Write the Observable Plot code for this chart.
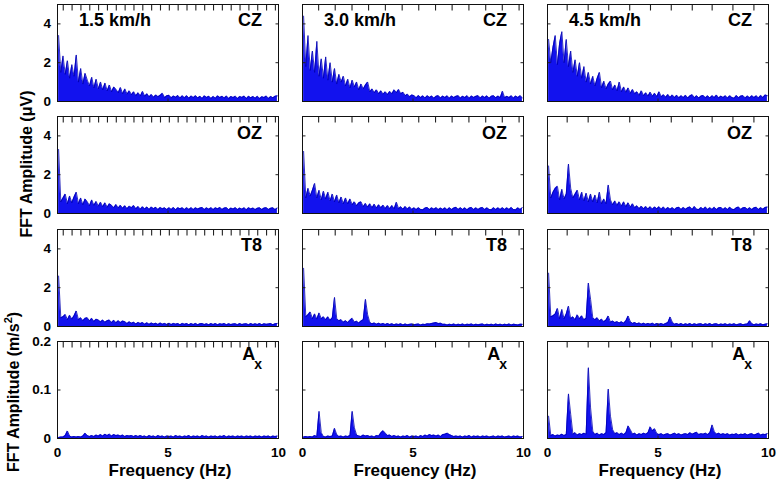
<!DOCTYPE html>
<html><head><meta charset="utf-8">
<script src="https://cdn.jsdelivr.net/npm/d3@7"></script>
<script src="https://cdn.jsdelivr.net/npm/@observablehq/plot@0.6"></script>
<style>
html,body{margin:0;padding:0;background:#fff;}
#chart{position:relative;width:777px;height:482px;overflow:hidden;font-family:"Liberation Sans",Arial,sans-serif;}
#chart svg{position:absolute;background:transparent !important;overflow:visible;}
</style></head><body><div id="chart"></div>
<script>
// ---- labels ----
const speeds = ["1.5 km/h", "3.0 km/h", "4.5 km/h"];
const channels = ["CZ", "OZ", "T8", "Ax"];
const xTicks = [0, 5, 10];
const eegTicks = [0, 2, 4];
const accTicks = [0, 0.1, 0.2];
// stride-harmonic marks at the top of each column (Hz)
const harm15 = [0.26,0.66,1.06,1.46,1.86,2.26,2.66,3.06,3.46,3.86,4.26,4.66,5.06,5.46,5.86,6.26,6.66,7.06,7.46,7.86,8.26,8.66,9.06,9.46,9.86];
const harm30 = [0.73,1.48,2.24,2.99,3.75,4.51,5.26,6.02,6.77,7.53,8.29,9.04,9.80];
const harm45 = [0.89,1.84,2.77,3.72,4.66,5.60,6.55,7.45,8.39,9.34];
// spectrum bins: centre of first bin and bin width (Hz)
const binStart = 0.05, binStep = 0.1;

// ---- FFT amplitudes (µV), 100 bins, one row per Hz ----
const cz15 = [
3.4,1.5,2.35,1.4,2.1,1.2,1.9,1.3,2.4,1.0,
1.7,0.9,1.45,1.1,0.8,1.25,0.7,1.15,0.65,1.0,
0.6,0.95,0.55,0.85,0.5,0.75,0.62,0.45,0.72,0.4,
0.65,0.38,0.55,0.35,0.5,0.3,0.45,0.28,0.52,0.27,
0.4,0.24,0.36,0.22,0.34,0.25,0.32,0.42,0.2,0.3,
0.32,0.19,0.28,0.22,0.31,0.18,0.29,0.19,0.3,0.17,
0.28,0.2,0.3,0.18,0.27,0.16,0.29,0.21,0.27,0.16,
0.26,0.17,0.29,0.2,0.27,0.18,0.28,0.15,0.26,0.2,
0.27,0.16,0.26,0.21,0.28,0.15,0.27,0.19,0.26,0.17,
0.27,0.15,0.25,0.2,0.28,0.16,0.26,0.19,0.27,0.29];
const oz15 = [
3.3,0.6,0.8,1.0,0.5,0.9,0.55,0.85,1.1,0.5,
0.8,0.45,0.75,0.6,0.4,0.7,0.42,0.62,0.38,0.58,
0.35,0.55,0.32,0.5,0.42,0.3,0.46,0.28,0.42,0.27,
0.4,0.25,0.38,0.3,0.41,0.24,0.36,0.22,0.35,0.23,
0.34,0.21,0.33,0.25,0.32,0.2,0.31,0.24,0.29,0.2,
0.3,0.21,0.31,0.19,0.3,0.24,0.29,0.2,0.3,0.21,
0.3,0.2,0.29,0.23,0.28,0.31,0.2,0.29,0.22,0.3,
0.2,0.29,0.24,0.31,0.21,0.28,0.3,0.19,0.28,0.23,
0.3,0.2,0.28,0.22,0.29,0.19,0.3,0.23,0.28,0.2,
0.27,0.29,0.2,0.28,0.3,0.21,0.27,0.29,0.2,0.28];
const t815 = [
2.6,0.45,0.5,0.62,0.35,0.58,0.38,0.55,0.8,0.35,
0.45,0.3,0.42,0.45,0.28,0.42,0.26,0.38,0.33,0.24,
0.33,0.22,0.3,0.33,0.2,0.32,0.19,0.3,0.2,0.28,
0.25,0.15,0.24,0.17,0.22,0.13,0.21,0.15,0.2,0.12,
0.19,0.11,0.18,0.13,0.17,0.1,0.18,0.12,0.16,0.1,
0.17,0.1,0.16,0.12,0.15,0.09,0.16,0.11,0.15,0.09,
0.15,0.1,0.16,0.09,0.14,0.15,0.1,0.14,0.09,0.15,
0.1,0.15,0.09,0.14,0.11,0.15,0.09,0.14,0.1,0.13,
0.14,0.09,0.15,0.1,0.13,0.14,0.09,0.15,0.1,0.14,
0.1,0.15,0.09,0.14,0.11,0.13,0.15,0.09,0.14,0.16];
const cz30 = [
4.4,1.8,3.4,1.6,2.6,1.5,3.1,1.3,2.2,1.2,
2.3,1.1,2.0,1.0,1.7,0.9,1.4,1.0,1.3,0.8,
1.15,0.7,1.1,0.75,1.0,0.6,0.9,0.65,0.85,1.0,
0.5,0.65,0.45,0.6,0.4,0.55,0.38,0.5,0.36,0.52,
0.4,0.6,0.45,0.62,0.4,0.48,0.3,0.38,0.25,0.34,
0.3,0.19,0.31,0.2,0.29,0.18,0.3,0.21,0.28,0.17,
0.27,0.3,0.18,0.28,0.2,0.29,0.17,0.28,0.2,0.27,
0.29,0.18,0.27,0.2,0.3,0.17,0.28,0.21,0.27,0.3,
0.18,0.28,0.2,0.29,0.17,0.27,0.3,0.19,0.28,0.2,
0.53,0.19,0.27,0.2,0.29,0.18,0.28,0.2,0.3,0.19];
const oz30 = [
3.2,0.8,1.3,0.9,1.2,1.55,0.8,1.2,0.7,1.15,
0.75,1.1,0.65,1.0,0.6,0.95,0.55,0.85,0.5,0.8,
0.5,0.75,0.45,0.6,0.4,0.55,0.6,0.35,0.52,0.33,
0.5,0.3,0.48,0.28,0.45,0.3,0.43,0.26,0.41,0.25,
0.41,0.24,0.58,0.25,0.35,0.22,0.36,0.23,0.34,0.21,
0.29,0.2,0.3,0.21,0.19,0.28,0.31,0.2,0.29,0.22,
0.3,0.2,0.28,0.21,0.29,0.19,0.3,0.2,0.28,0.32,
0.21,0.3,0.2,0.29,0.19,0.28,0.31,0.2,0.29,0.21,
0.28,0.31,0.2,0.29,0.21,0.19,0.3,0.2,0.29,0.21,
0.3,0.2,0.29,0.21,0.31,0.2,0.19,0.29,0.21,0.3];
const t830 = [
3.0,0.5,0.6,0.75,0.4,0.65,0.38,0.7,0.4,0.5,
0.35,0.5,0.32,0.45,1.5,0.4,0.3,0.35,0.22,0.3,
0.2,0.32,0.42,0.22,0.27,0.18,0.28,0.35,1.4,0.6,
0.2,0.14,0.18,0.12,0.17,0.11,0.16,0.1,0.15,0.1,
0.14,0.09,0.13,0.1,0.14,0.08,0.13,0.09,0.11,0.13,
0.09,0.11,0.13,0.08,0.12,0.1,0.14,0.13,0.16,0.18,
0.2,0.15,0.17,0.11,0.12,0.08,0.12,0.09,0.13,0.08,
0.12,0.09,0.13,0.08,0.12,0.1,0.13,0.08,0.12,0.09,
0.11,0.13,0.08,0.12,0.09,0.12,0.08,0.13,0.09,0.12,
0.08,0.12,0.09,0.13,0.08,0.12,0.1,0.08,0.12,0.11];
const cz45 = [
3.2,2.0,2.8,3.4,1.9,3.0,3.6,2.0,3.2,1.8,
2.6,1.5,2.15,1.3,2.0,1.2,1.8,1.0,1.5,0.9,
1.3,0.8,1.2,1.5,0.7,1.05,0.65,0.9,1.05,0.6,
0.85,0.55,1.0,0.5,0.75,0.48,0.7,0.42,0.62,0.4,
0.5,0.32,0.55,0.3,0.45,0.28,0.48,0.27,0.42,0.26,
0.5,0.24,0.35,0.22,0.36,0.21,0.34,0.2,0.32,0.19,
0.3,0.2,0.32,0.18,0.29,0.35,0.19,0.3,0.18,0.28,
0.31,0.19,0.29,0.18,0.3,0.2,0.33,0.18,0.28,0.2,
0.29,0.18,0.3,0.2,0.17,0.31,0.19,0.28,0.3,0.18,
0.28,0.19,0.3,0.2,0.29,0.18,0.31,0.2,0.34,0.3];
const oz45 = [
2.45,0.8,1.1,1.3,1.4,0.7,1.25,0.75,1.0,2.55,
1.3,0.8,1.0,1.2,0.7,1.1,0.65,1.05,0.6,1.0,
0.6,0.95,0.55,1.1,0.5,0.75,0.5,1.47,0.7,0.45,
0.65,0.42,0.6,0.38,0.6,0.35,0.55,0.32,0.5,0.3,
0.4,0.25,0.38,0.24,0.36,0.23,0.35,0.22,0.34,0.24,
0.35,0.22,0.33,0.21,0.31,0.22,0.3,0.2,0.29,0.32,
0.21,0.31,0.22,0.3,0.34,0.21,0.36,0.22,0.2,0.31,
0.22,0.33,0.2,0.3,0.21,0.32,0.2,0.29,0.31,0.21,
0.3,0.2,0.32,0.22,0.2,0.3,0.33,0.21,0.29,0.31,
0.21,0.3,0.2,0.29,0.32,0.21,0.3,0.22,0.31,0.33];
const t845 = [
2.75,0.5,0.55,0.65,0.93,0.4,0.88,0.4,0.65,1.05,
0.4,0.5,0.35,0.6,0.4,0.55,0.35,0.42,2.24,1.4,
0.45,0.35,0.45,0.28,0.38,0.25,0.33,0.54,0.22,0.28,
0.2,0.25,0.18,0.24,0.17,0.3,0.54,0.25,0.16,0.2,
0.14,0.18,0.12,0.17,0.11,0.16,0.12,0.17,0.1,0.15,
0.11,0.15,0.1,0.15,0.2,0.49,0.22,0.12,0.15,0.1,
0.15,0.09,0.14,0.1,0.15,0.09,0.14,0.1,0.13,0.14,
0.09,0.14,0.1,0.15,0.09,0.13,0.14,0.09,0.13,0.1,
0.14,0.09,0.13,0.1,0.14,0.09,0.12,0.14,0.09,0.12,
0.13,0.3,0.14,0.09,0.13,0.1,0.14,0.09,0.12,0.14];
// ---- FFT amplitudes (m/s^2) of the Ax acceleration ----
const ax15 = [
0.002,0.003,0.003,0.006,0.0155,0.005,0.003,0.004,0.003,0.004,
0.003,0.005,0.011,0.006,0.004,0.006,0.004,0.007,0.005,0.008,
0.005,0.009,0.006,0.009,0.005,0.008,0.006,0.007,0.005,0.007,
0.004,0.006,0.005,0.006,0.004,0.006,0.004,0.006,0.004,0.005,
0.003,0.006,0.004,0.005,0.003,0.006,0.004,0.005,0.003,0.005,
0.004,0.005,0.003,0.006,0.004,0.005,0.003,0.005,0.004,0.006,
0.003,0.005,0.004,0.005,0.003,0.006,0.004,0.005,0.003,0.005,
0.004,0.005,0.003,0.005,0.004,0.006,0.003,0.005,0.004,0.005,
0.003,0.005,0.004,0.005,0.003,0.005,0.004,0.005,0.003,0.005,
0.004,0.005,0.003,0.005,0.004,0.005,0.003,0.005,0.004,0.005];
const ax30 = [
0.003,0.004,0.003,0.004,0.003,0.006,0.004,0.056,0.012,0.004,
0.003,0.005,0.004,0.005,0.021,0.008,0.004,0.005,0.003,0.005,
0.004,0.006,0.056,0.022,0.007,0.005,0.004,0.007,0.005,0.006,
0.004,0.005,0.003,0.006,0.005,0.012,0.016,0.011,0.006,0.007,
0.004,0.006,0.004,0.005,0.003,0.005,0.004,0.006,0.003,0.005,
0.004,0.005,0.003,0.006,0.004,0.007,0.005,0.008,0.006,0.007,
0.005,0.007,0.004,0.008,0.009,0.011,0.008,0.006,0.004,0.005,
0.004,0.005,0.003,0.005,0.004,0.006,0.003,0.005,0.004,0.005,
0.003,0.005,0.004,0.005,0.003,0.004,0.005,0.003,0.005,0.004,
0.005,0.003,0.004,0.005,0.003,0.005,0.004,0.005,0.003,0.004];
const ax45 = [
0.046,0.006,0.008,0.005,0.007,0.006,0.009,0.006,0.008,0.092,
0.05,0.009,0.012,0.007,0.01,0.008,0.011,0.009,0.146,0.063,
0.015,0.008,0.011,0.007,0.01,0.008,0.012,0.102,0.046,0.018,
0.01,0.012,0.008,0.011,0.008,0.012,0.026,0.018,0.009,0.011,
0.007,0.01,0.008,0.011,0.009,0.012,0.024,0.016,0.02,0.01,
0.008,0.01,0.007,0.009,0.01,0.007,0.009,0.011,0.008,0.01,
0.007,0.009,0.01,0.008,0.012,0.009,0.011,0.013,0.008,0.01,
0.009,0.011,0.008,0.012,0.028,0.014,0.009,0.011,0.008,0.01,
0.008,0.01,0.007,0.009,0.008,0.01,0.007,0.009,0.008,0.01,
0.007,0.009,0.01,0.007,0.009,0.011,0.007,0.009,0.008,0.01];

const grid = [
  [cz15, cz30, cz45],
  [oz15, oz30, oz45],
  [t815, t830, t845],
  [ax15, ax30, ax45]
];
const harmonics = [harm15, harm30, harm45];

// ---- layout ----
const X0 = [56.5, 301.5, 546.5], W = 221;
const Y0 = [3.5, 116, 228.5, 340.5], H = 97;
const ML = 45, MR = 12, MT = 8, MB = 40;
const FILL = "#1212ee", STROKE = "#0000b0";
const FONT = '"Liberation Sans", Arial, sans-serif';
const TOPTICK = 6, SIDETICK = 3; // px
const TICKCOLOR = "#222";
const chart = document.getElementById("chart");

for (let r = 0; r < 4; r++) {
  for (let c = 0; c < 3; c++) {
    const rows = grid[r][c].map((v, i) => ({f: binStart + i * binStep, v}));
    const isAcc = r === 3;
    const yTicks = isAcc ? accTicks : eegTicks;
    const yMax = isAcc ? 0.2 : 5;
    const dyTop = yMax * TOPTICK / H, dySide = yMax * SIDETICK / H, dxSide = 10 * SIDETICK / W;
    const topTicks = harmonics[c].map(h => ({x: h, y1: yMax, y2: yMax - dyTop}));
    const botTicks = xTicks.map(t => ({x: t, y1: 0, y2: dySide}));
    const leftTicks = yTicks.map(t => ({y: t, x1: 0, x2: dxSide}));
    const rightTicks = yTicks.map(t => ({y: t, x1: 10 - dxSide, x2: 10}));
    const svg = Plot.plot({
      width: W + ML + MR, height: H + MT + MB,
      marginLeft: ML, marginRight: MR, marginTop: MT, marginBottom: MB,
      style: {background: "transparent", overflow: "visible", fontFamily: FONT, fontSize: "13.5px", fontWeight: "bold", color: "#000"},
      x: {domain: [0, 10], ticks: xTicks, tickSize: 0, tickPadding: 8.5, tickFormat: d => String(d), axis: r === 3 ? "bottom" : null, label: null},
      y: {domain: [0, yMax], ticks: yTicks, tickSize: 0, tickPadding: 6.5, tickFormat: d => String(d), axis: c === 0 ? "left" : null, label: null},
      marks: [
        Plot.areaY(rows, {x: "f", y: "v", fill: FILL}),
        Plot.lineY(rows, {x: "f", y: "v", stroke: STROKE, strokeWidth: 0.8}),
        Plot.link(topTicks, {x1: "x", x2: "x", y1: "y1", y2: "y2", stroke: TICKCOLOR, strokeWidth: 1.1}),
        Plot.link(botTicks, {x1: "x", x2: "x", y1: "y1", y2: "y2", stroke: TICKCOLOR, strokeWidth: 1}),
        Plot.link(leftTicks, {x1: "x1", x2: "x2", y1: "y", y2: "y", stroke: TICKCOLOR, strokeWidth: 1}),
        Plot.link(rightTicks, {x1: "x1", x2: "x2", y1: "y", y2: "y", stroke: TICKCOLOR, strokeWidth: 1}),
        Plot.frame({stroke: "#111", strokeWidth: 1})
      ]
    });
    svg.style.left = (X0[c] - ML) + "px";
    svg.style.top = (Y0[r] - MT) + "px";
    chart.appendChild(svg);
  }
}

// ---- text overlay ----
const ov = d3.select(chart).append("svg")
  .attr("width", 777).attr("height", 482)
  .style("left", "0px").style("top", "0px")
  .attr("font-family", FONT).attr("font-weight", "bold").attr("fill", "#000")
  .style("pointer-events", "none");

speeds.forEach((s, c) => {
  ov.append("text").attr("x", X0[c] + 22.5).attr("y", Y0[0] + 22.7)
    .attr("font-size", 18).text(s);
});
for (let r = 0; r < 4; r++) {
  for (let c = 0; c < 3; c++) {
    const t = ov.append("text").attr("text-anchor", "end")
      .attr("x", X0[c] + W - 15.5).attr("font-size", 18);
    if (r < 3) {
      t.attr("y", Y0[r] + 22.6).text(channels[r]);
    } else {
      t.attr("y", Y0[r] + 19);
      t.append("tspan").text(channels[r].slice(0, 1));
      t.append("tspan").attr("font-size", 14).attr("dx", -1).attr("dy", 9.5).text(channels[r].slice(1));
    }
  }
}
for (let c = 0; c < 3; c++) {
  ov.append("text").attr("text-anchor", "middle")
    .attr("x", X0[c] + W / 2 + 3).attr("y", 476)
    .attr("font-size", 17).text("Frequency (Hz)");
}
ov.append("text").attr("text-anchor", "middle").attr("font-size", 16)
  .attr("transform", "translate(32,164) rotate(-90)")
  .text("FFT Amplitude (\u03bcV)");
const t2 = ov.append("text").attr("text-anchor", "middle").attr("font-size", 16)
  .attr("transform", "translate(19,392) rotate(-90)");
t2.append("tspan").text("FFT Amplitude (m/s");
t2.append("tspan").attr("font-size", 11).attr("dy", -7).text("2");
t2.append("tspan").attr("dy", 7).text(")");
</script>
</body></html>
